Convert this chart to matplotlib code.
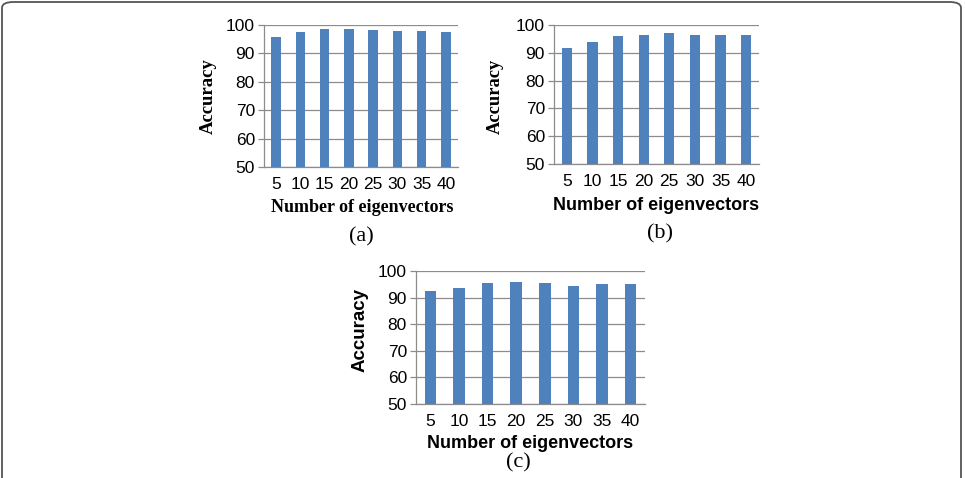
import numpy as np
import matplotlib.pyplot as plt
from matplotlib.patches import FancyBboxPatch

# Data
eigenvectors = [5, 10, 15, 20, 25, 30, 35, 40]
acc_a = [95.6, 97.6, 98.6, 98.6, 98.1, 97.9, 97.9, 97.6]
acc_b = [91.9, 93.8, 95.9, 96.5, 97.1, 96.5, 96.5, 96.5]
acc_c = [92.4, 93.6, 95.5, 95.9, 95.5, 94.5, 95.2, 95.0]
y_ticks = [50, 60, 70, 80, 90, 100]

W, H = 965, 478
SANS = 'Liberation Sans'
SERIF = 'Liberation Serif'
BAR = '#4F81BD'
GRID = '#8C8C8C'

fig = plt.figure(figsize=(W / 100, H / 100), dpi=100)


def px_axes(x0, x1, y0, y1):
    # y0 is the top edge, y1 the bottom edge, in pixels from the top
    return fig.add_axes([x0 / W, 1 - y1 / H, (x1 - x0) / W, (y1 - y0) / H])


def panel(ax, values):
    x = np.arange(len(eigenvectors))
    ax.bar(x, values, width=0.4, color=BAR, zorder=3)
    ax.set_xlim(-0.5, len(eigenvectors) - 0.5)
    ax.set_ylim(50, 100)
    ax.set_yticks(y_ticks)
    ax.set_xticks(x)
    ax.set_xticklabels([str(v) for v in eigenvectors])
    ax.yaxis.grid(True, color=GRID, linewidth=0.9, zorder=0)
    for s in ['top', 'right']:
        ax.spines[s].set_visible(False)
    for s in ['left', 'bottom']:
        ax.spines[s].set_color(GRID)
        ax.spines[s].set_linewidth(0.9)
    ax.tick_params(axis='y', length=4.5, width=0.9, color=GRID, pad=2)
    ax.tick_params(axis='x', length=0, pad=7)
    for lab in ax.get_xticklabels() + ax.get_yticklabels():
        lab.set_fontfamily(SANS)
        lab.set_fontsize(12.5)


def ftext(x, y, s, **kw):
    fig.text(x / W, 1 - y / H, s, **kw)


# (a)
ax_a = px_axes(264, 458, 25, 167)
panel(ax_a, acc_a)
ftext(362, 207, 'Number of eigenvectors', family=SERIF, weight='bold',
      fontsize=13, ha='center', va='center')
ftext(208, 96, 'Accuracy', family=SERIF, weight='bold', fontsize=13.5,
      rotation=90, ha='center', va='center')
ftext(361, 237, '(a)', family=SERIF, fontsize=16, ha='center', va='center')

# (b)
ax_b = px_axes(554, 759, 25, 164)
panel(ax_b, acc_b)
ftext(656, 205, 'Number of eigenvectors', family=SANS, weight='bold',
      fontsize=13, ha='center', va='center')
ftext(495, 96, 'Accuracy', family=SERIF, weight='bold', fontsize=13.3,
      rotation=90, ha='center', va='center')
ftext(660, 234, '(b)', family=SERIF, fontsize=16, ha='center', va='center')

# (c)
ax_c = px_axes(416, 645, 271, 404)
panel(ax_c, acc_c)
ftext(530, 443, 'Number of eigenvectors', family=SANS, weight='bold',
      fontsize=13, ha='center', va='center')
ftext(360, 330, 'Accuracy', family=SANS, weight='bold', fontsize=13.5,
      rotation=90, ha='center', va='center')
ftext(518, 453, '(c)', family=SERIF, fontsize=16, ha='center', va='top')

# rounded frame, open at the bottom
frame = FancyBboxPatch((2 / W, -0.1), (W - 6) / W, 1 - 2 / H + 0.1,
                       boxstyle='round,pad=0,rounding_size=0.012',
                       transform=fig.transFigure, fill=False,
                       edgecolor='#555555', linewidth=1.3, clip_on=False)
fig.patches.append(frame)

fig.savefig('out.png', dpi=100)
